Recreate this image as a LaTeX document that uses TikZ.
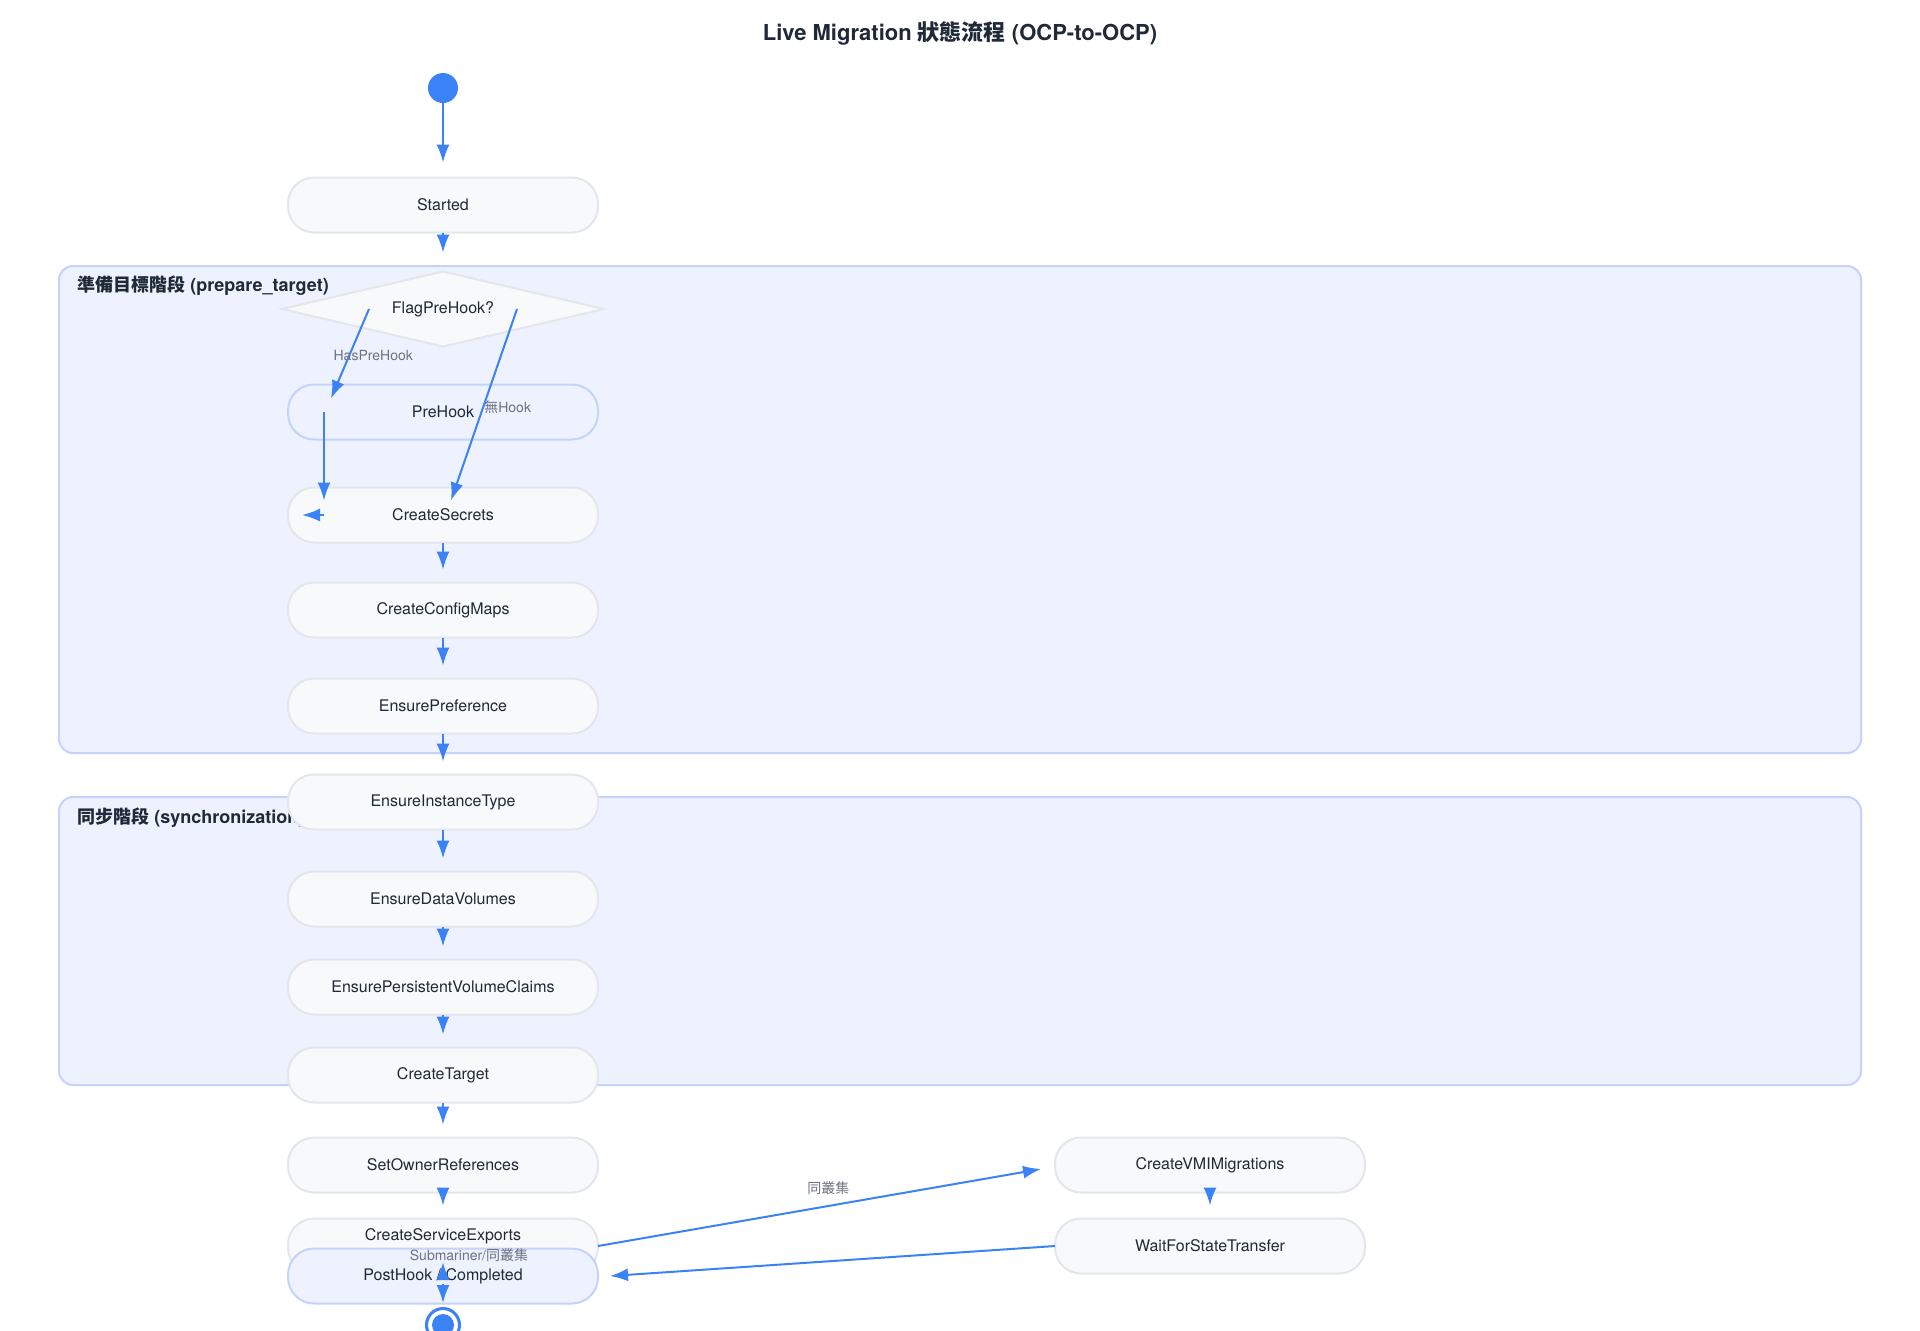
\documentclass[tikz,border=0pt]{standalone}
\usepackage{fontspec}
\setmainfont{TeX Gyre Heros}
\newfontfamily\cjk{Noto Sans CJK TC}
\usetikzlibrary{shapes.geometric,arrows.meta}

\definecolor{flowblue}{HTML}{3B82F6}
\definecolor{nodefill}{HTML}{F8F9FA}
\definecolor{nodeedge}{HTML}{E3E6EA}
\definecolor{groupfill}{HTML}{EEF2FE}
\definecolor{groupedge}{HTML}{C5D3FB}
\definecolor{inkdark}{HTML}{1F2937}
\definecolor{labelgray}{HTML}{6B7280}

\tikzset{
  state/.style={draw=nodeedge, fill=nodefill, line width=1pt, rounded corners=13pt,
    minimum width=155pt, minimum height=27.5pt, inner sep=0pt, outer sep=0pt,
    text=inkdark, font=\fontsize{8}{10}\selectfont},
  hookstate/.style={state, draw=groupedge, fill=groupfill},
  decision/.style={diamond, draw=nodeedge, fill=nodefill, line width=1pt, aspect=4,
    minimum width=161pt, minimum height=37.5pt, inner sep=0pt, outer sep=0pt,
    text=inkdark, font=\fontsize{8}{10}\selectfont},
  phase/.style={draw=groupedge, fill=groupfill, line width=1pt, rounded corners=7pt},
  phaselabel/.style={anchor=west, inner sep=0pt, text=inkdark, font=\fontsize{9}{11}\selectfont\bfseries},
  flow/.style={draw=flowblue, line width=1pt, -{Latex[length=9pt,width=6.5pt]}, shorten >=6.5pt},
  lbl/.style={inner sep=1pt, text=labelgray, font=\fontsize{7}{8}\selectfont}
}

\begin{document}
\begin{tikzpicture}[x=0.5pt,y=-0.5pt]
\useasboundingbox (0,0) rectangle (1920,1330);
\node[text=inkdark, font=\fontsize{11}{13}\selectfont\bfseries] (heading) at (960,33)
  {Live Migration {\cjk 狀態流程} (OCP-to-OCP)};

\draw[phase] (59,266) rectangle (1861,753);
\draw[phase] (59,797) rectangle (1861,1085);
\node[phaselabel] (preplabel) at (77,286) {{\cjk 準備目標階段} (prepare\_target)};
\node[phaselabel] (synclabel) at (77,818) {{\cjk 同步階段} (synchronization)};

\node[circle, fill=flowblue, minimum size=15pt, inner sep=0pt] (start) at (443,88) {};
\node[state] (started) at (443,205) {Started};
\node[decision] (flag) at (443,309) {FlagPreHook?};
\node[hookstate] (prehook) at (443,412) {PreHook};
\node[state] (secrets) at (443,515) {CreateSecrets};
\node[state] (configmaps) at (443,610) {CreateConfigMaps};
\node[state] (preference) at (443,706) {EnsurePreference};
\node[state] (instancetype) at (443,802) {EnsureInstanceType};
\node[state] (datavolumes) at (443,899) {EnsureDataVolumes};
\node[state] (pvcs) at (443,987) {EnsurePersistentVolumeClaims};
\node[state] (target) at (443,1075) {CreateTarget};
\node[state] (owner) at (443,1165) {SetOwnerReferences};
\node[state, text height=6pt, text depth=12pt] (exports) at (443,1246) {CreateServiceExports};
\node[hookstate] (posthook) at (443,1276) {PostHook / Completed};
\node[state] (vmi) at (1210,1165) {CreateVMIMigrations};
\node[state] (wait) at (1210,1246) {WaitForStateTransfer};
\node[circle, draw=flowblue, line width=1.5pt, fill=white, minimum size=16.5pt, inner sep=0pt] (finish) at (443,1325) {};
\fill[flowblue] (finish) circle (11);

\draw[flow, shorten >=7.5pt] (start) -- (started);
\draw[flow, shorten >=9.5pt] (started) -- (flag);
\draw[flow, shorten >=0pt] ([xshift=-37pt]flag.center) -- ([xshift=-56pt,yshift=-7pt]prehook.north)
  node[lbl, pos=0.52, xshift=12pt] {HasPreHook};
\draw[flow, shorten >=0pt] ([xshift=-59.5pt]prehook.center) -- ([xshift=-59.5pt,yshift=-6.5pt]secrets.north);
\draw[flow, shorten >=0pt] ([xshift=-59.5pt]secrets.center) -- ([xshift=-70.5pt]secrets.center);
\draw[flow, shorten >=0pt] ([xshift=37pt]flag.center) -- ([xshift=4pt,yshift=-6.5pt]secrets.north)
  node[lbl, pos=0.51, anchor=west, inner sep=0pt] {{\cjk 無}Hook};
\draw[flow] (secrets) -- (configmaps);
\draw[flow] (configmaps) -- (preference);
\draw[flow] (preference) -- (instancetype);
\draw[flow] (instancetype) -- (datavolumes);
\draw[flow] (datavolumes) -- (pvcs);
\draw[flow] (pvcs) -- (target);
\draw[flow] (target) -- (owner);
\draw[flow] (owner.south) -- (exports.north);
\draw[flow, shorten >=0pt] (exports.east) -- ([xshift=-7pt,yshift=-2pt]vmi.west)
  node[lbl, pos=0.52, yshift=9pt] {{\cjk 同叢集}};
\draw[flow] (vmi) -- (wait);
\draw[flow, shorten >=0pt] (wait.west) -- ([xshift=6pt]posthook.east);
\draw[flow, shorten >=0pt] ([yshift=-2pt]posthook.center) -- ([yshift=7pt]posthook.center)
  node[lbl, pos=1, xshift=13pt, yshift=3.5pt] {Submariner/{\cjk 同叢集}};
\draw[flow, shorten >=0pt] ([yshift=-4pt]posthook.center) -- ([yshift=2pt]finish.north);
\end{tikzpicture}
\end{document}
